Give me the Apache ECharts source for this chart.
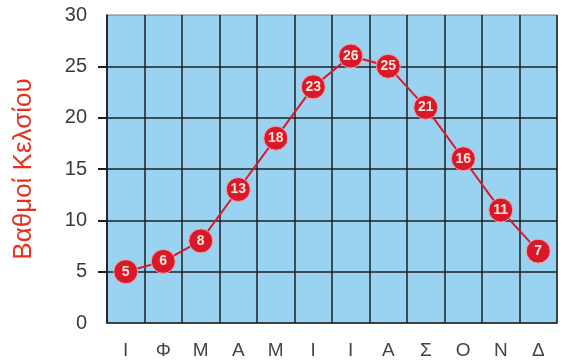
<!DOCTYPE html>
<html>
<head>
<meta charset="utf-8">
<script src="https://cdn.jsdelivr.net/npm/echarts@6/dist/echarts.min.js"></script>
<style>
  html, body { margin: 0; padding: 0; background: #ffffff; }
  #chart { width: 563px; height: 360px; }
</style>
</head>
<body>
<div id="chart"></div>
<script>
// Monthly mean temperature (°C)
const months = ['Ι', 'Φ', 'Μ', 'Α', 'Μ', 'Ι', 'Ι', 'Α', 'Σ', 'Ο', 'Ν', 'Δ'];
const temperatures = [5, 6, 8, 13, 18, 23, 26, 25, 21, 16, 11, 7];
const yTicks = [5, 10, 15, 20, 25];

const chart = echarts.init(document.getElementById('chart'), null, { renderer: 'canvas' });

const gridLine = { color: '#1e1e1e', width: 1.5 };
const font = 'Liberation Sans, Arial, sans-serif';

chart.setOption({
  animation: false,
  grid: {
    left: 107, right: 6, top: 15, bottom: 35,
    show: true,
    backgroundColor: '#9ad3f1',
    borderColor: '#6f7a80',
    borderWidth: 1
  },
  xAxis: {
    type: 'category',
    data: months,
    boundaryGap: true,
    axisLine: { show: true, lineStyle: gridLine },
    axisTick: { show: false },
    splitLine: { show: true, interval: 0, lineStyle: gridLine },
    axisLabel: { fontSize: 19, color: '#444444', margin: 18, fontFamily: font, interval: 0 }
  },
  yAxis: {
    type: 'value',
    min: 0, max: 30, interval: 5,
    name: 'Βαθμοί Κελσίου',
    nameLocation: 'middle',
    nameGap: 70,
    nameRotate: 90,
    nameTextStyle: { color: '#e2321f', fontSize: 26, fontFamily: font },
    axisLine: { show: true, lineStyle: gridLine },
    axisTick: { show: true, length: 9, customValues: yTicks, lineStyle: { color: '#1e1e1e', width: 2 } },
    splitLine: { show: true, lineStyle: gridLine },
    axisLabel: { fontSize: 20, color: '#3a3a3a', margin: 20, fontFamily: font }
  },
  series: [{
    type: 'line',
    data: temperatures,
    symbol: 'circle',
    symbolSize: 24,
    z: 5,
    lineStyle: { color: '#d9192b', width: 2 },
    itemStyle: { color: '#d9192b', borderColor: '#f2a7a7', borderWidth: 1 },
    label: {
      show: true,
      position: 'inside',
      color: '#fbe6d2',
      fontSize: 14,
      fontWeight: 'bold',
      fontFamily: font
    }
  }]
});
</script>
</body>
</html>
